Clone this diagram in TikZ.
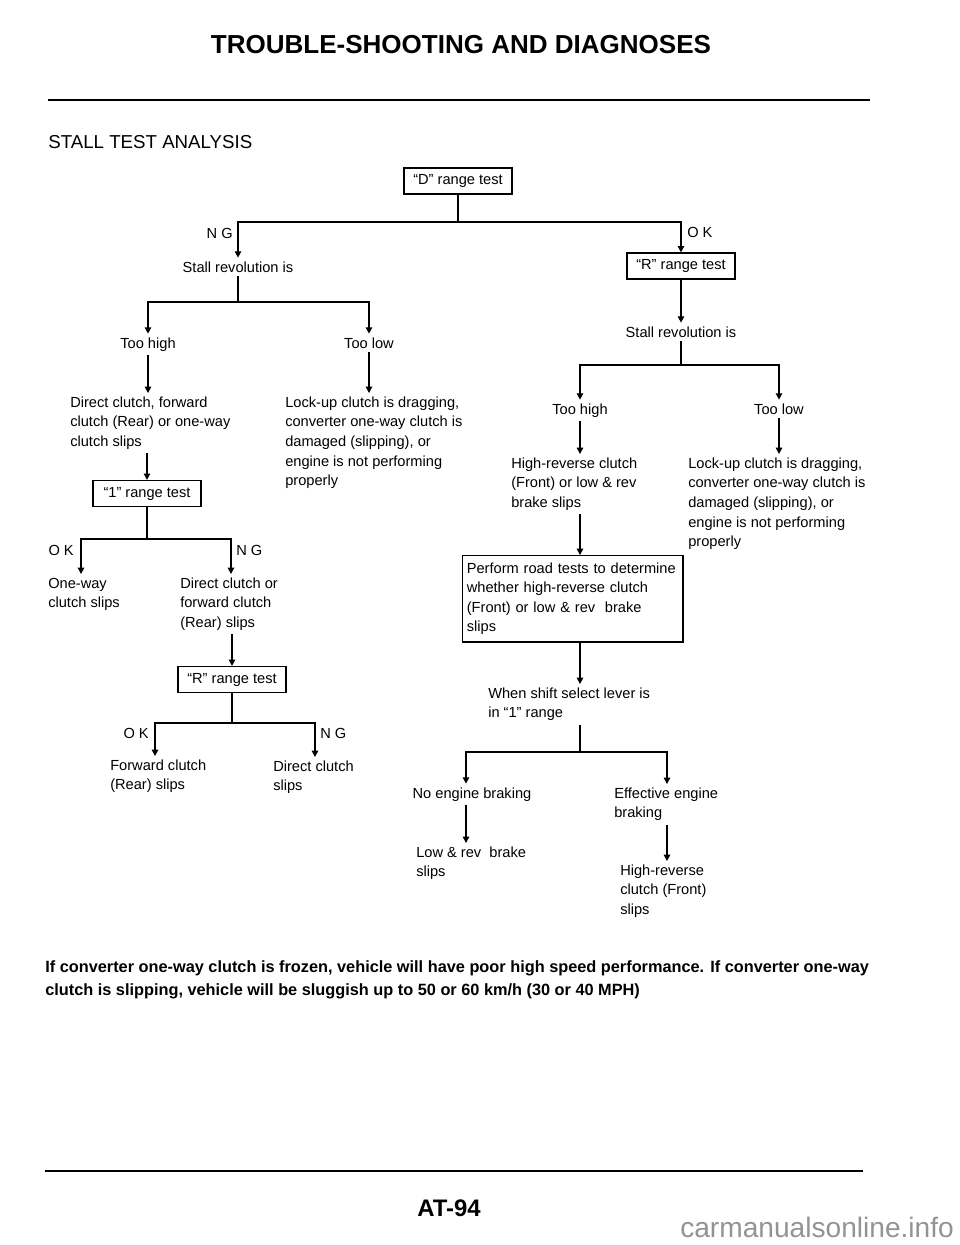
\documentclass[tikz,border=0pt]{standalone}
\usepackage{fontspec}
\setmainfont{Liberation Sans}
\usetikzlibrary{arrows.meta,positioning}

\tikzset{
	flow/.style={-{Triangle[length=4.5pt,width=4.6pt]}, line width=0.9pt},
	link/.style={line width=0.9pt},
	txt/.style={inner sep=2.5pt, font=\fontsize{10.4}{13.9}\selectfont},
	note/.style={txt, inner xsep=0pt, align=left, anchor=north west},
	testbox/.style={txt, draw, line width=0.9pt, minimum width=2.7cm, minimum height=0.65cm},
	verdict/.style={txt, inner sep=0pt},
	rule/.style={line width=1.8pt},
}

\begin{document}
\begin{tikzpicture}[x=0.025cm, y=-0.025cm]
	
	\useasboundingbox (0,0) rectangle (960,1245);
	
	\node[anchor=base, inner sep=0pt, font=\bfseries\fontsize{18.5}{22}\selectfont] (title) at (461,53) {TROUBLE-SHOOTING AND DIAGNOSES};
	\draw[rule] (48,100) -- (870,100);
	\node[anchor=base west, inner sep=0pt, font=\fontsize{13.3}{16}\selectfont] (heading) at (48,148) {STALL TEST ANALYSIS};
	
	\node[testbox] (dtest) at (458,181) {“D” range test};
	\coordinate (dj) at (458,222);
	\node[txt, anchor=base] (stallL) at (238,272) {Stall revolution is};
	\node[testbox] (rtestR) at (681,266) {“R” range test};
	\draw[link] (dtest) -- (dj);
	\draw[flow] (dj) -| (stallL);
	\draw[flow] (dj) -| (rtestR);
	\node[verdict, anchor=base east] (ngD) at (233,238) {N G};
	\node[verdict, anchor=base west] (okD) at (687,237) {O K};
	
	\coordinate (jL) at (238,302);
	\node[txt, anchor=base] (highL) at (148,348) {Too high};
	\node[txt, anchor=base] (lowL) at (369,348) {Too low};
	\draw[link] (stallL) -- (jL);
	\draw[flow] (jL) -| (highL);
	\draw[flow] (jL) -| (lowL);
	
	\node[note] (dcf) at (70,393) {Direct clutch, forward\\clutch (Rear) or one-way\\clutch slips};
	\node[note] (lockL) at (285,393) {Lock-up clutch is dragging,\\converter one-way clutch is\\damaged (slipping), or\\engine is not performing\\properly};
	\draw[flow] (highL) -- (highL |- dcf.north);
	\draw[flow] (lowL) -- (lowL |- lockL.north);
	
	\node[testbox] (onetest) at (147,493.5) {“1” range test};
	\draw[flow] (onetest.north |- dcf.south) -- (onetest);
	\coordinate (j1) at (147,539);
	\coordinate (ok1) at (81,539);
	\coordinate (ng1) at (231,539);
	\node[note] (oneway) at (48,574) {One-way\\clutch slips};
	\node[note] (dcor) at (180,574) {Direct clutch or\\forward clutch\\(Rear) slips};
	\draw[link] (onetest) -- (j1);
	\draw[flow] (j1) -- (ok1) -- (ok1 |- oneway.north);
	\draw[flow] (j1) -- (ng1) -- (ng1 |- dcor.north);
	\node[verdict, anchor=base east] (ok1lbl) at (74,555) {O K};
	\node[verdict, anchor=base west] (ng1lbl) at (236,555) {N G};
	
	\node[testbox] (rtestL) at (232,679.5) {“R” range test};
	\draw[flow] (rtestL.north |- dcor.south) -- (rtestL);
	\coordinate (j2) at (232,723);
	\coordinate (ok2) at (155,723);
	\coordinate (ng2) at (315,723);
	\node[note] (fwd) at (110,756) {Forward clutch\\(Rear) slips};
	\node[note] (dcs) at (273,757) {Direct clutch\\slips};
	\draw[link] (rtestL) -- (j2);
	\draw[flow] (j2) -- (ok2) -- (ok2 |- fwd.north);
	\draw[flow] (j2) -- (ng2) -- (ng2 |- dcs.north);
	\node[verdict, anchor=base east] (ok2lbl) at (149,738) {O K};
	\node[verdict, anchor=base west] (ng2lbl) at (320,738) {N G};
	
	\node[txt, anchor=base] (stallR) at (681,337) {Stall revolution is};
	\draw[flow] (rtestR) -- (stallR);
	\coordinate (jR) at (681,365);
	\node[txt, anchor=base] (highR) at (580,414) {Too high};
	\node[txt, anchor=base] (lowR) at (779,414) {Too low};
	\draw[link] (stallR) -- (jR);
	\draw[flow] (jR) -| (highR);
	\draw[flow] (jR) -| (lowR);
	
	\node[note] (hrc) at (511,454) {High-reverse clutch\\(Front) or low \& rev\\brake slips};
	\node[note] (lockR) at (688,454) {Lock-up clutch is dragging,\\converter one-way clutch is\\damaged (slipping), or\\engine is not performing\\properly};
	\draw[flow] (highR) -- (highR |- hrc.north);
	\draw[flow] (lowR) -- (lowR |- lockR.north);
	
	\node[txt, draw, line width=0.9pt, align=left, anchor=north west, inner xsep=3pt, inner ysep=5pt, text width=5.3cm] (road) at (462,555) {Perform road tests to determine\\whether high-reverse clutch\\(Front) or low \& rev\ \ brake\\slips};
	\draw[flow] (highR |- hrc.south) -- (highR |- road.north);
	
	\node[note] (shift) at (488,684) {When shift select lever is\\in “1” range};
	\draw[flow] (highR |- road.south) -- (highR |- shift.north);
	\coordinate (j3) at (580,752);
	\coordinate (nb) at (466,752);
	\coordinate (eb) at (667,752);
	\draw[link] (highR |- shift.south) -- (j3);
	\node[txt, anchor=base] (nobrk) at (472,798) {No engine braking};
	\node[note] (effbrk) at (614,784) {Effective engine\\braking};
	\draw[flow] (j3) -- (nb) -- (nb |- nobrk.north);
	\draw[flow] (j3) -- (eb) -- (eb |- effbrk.north);
	\node[note] (lowrev) at (416,843) {Low \& rev\ \ brake\\slips};
	\node[note] (hrs) at (620,861) {High-reverse\\clutch (Front)\\slips};
	\draw[flow] (nb |- nobrk.south) -- (nb |- lowrev.north);
	\draw[flow] (eb |- effbrk.south) -- (eb |- hrs.north);
	
	\node[anchor=north west, align=left, inner sep=0pt, font=\bfseries\fontsize{11.6}{16.6}\selectfont] (remark) at (45,960) {If converter one-way clutch is frozen, vehicle will have poor high speed performance. If converter one-way\\clutch is slipping, vehicle will be sluggish up to 50 or 60 km/h (30 or 40 MPH)};
	
	\draw[rule] (45,1171) -- (863,1171);
	\node[anchor=base west, inner sep=0pt, font=\bfseries\fontsize{17}{20}\selectfont] (page) at (417,1216) {AT-94};
	\node[anchor=base west, inner sep=0pt, text=gray!85, font=\fontsize{20}{24}\selectfont] (site) at (680,1237) {carmanualsonline.info};
	
\end{tikzpicture}
\end{document}
